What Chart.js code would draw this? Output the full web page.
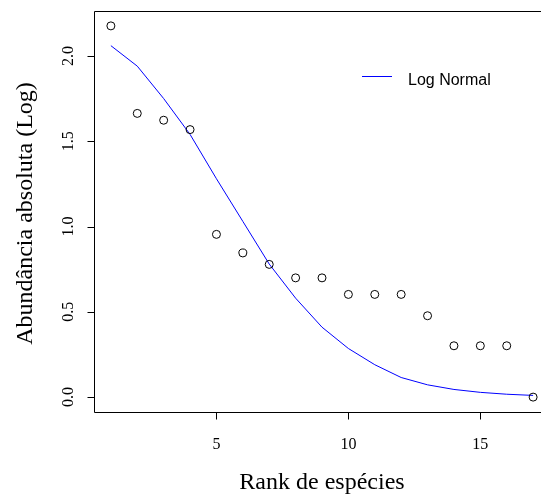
<!DOCTYPE html>
<html>
<head>
<meta charset="utf-8">
<script src="https://cdn.jsdelivr.net/npm/chart.js@4"></script>
<style>
  html, body { margin: 0; padding: 0; background: #fff; overflow: hidden; }
  #wrap { width: 560px; height: 498px; }
</style>
</head>
<body>
<div id="wrap"><canvas id="chart" width="560" height="498"></canvas></div>
<script>
// species rank (x) and log10 abundance
const ranks = [1, 2, 3, 4, 5, 6, 7, 8, 9, 10, 11, 12, 13, 14, 15, 16, 17];
const observed = [2.176, 1.663, 1.623, 1.568, 0.954, 0.845, 0.778, 0.699, 0.699,
  0.602, 0.602, 0.602, 0.477, 0.301, 0.301, 0.301, 0.0];
const logNormal = [2.06, 1.94, 1.75, 1.54, 1.28, 1.03, 0.78, 0.58, 0.41,
  0.285, 0.19, 0.115, 0.072, 0.045, 0.028, 0.017, 0.01];
const xTicks = [5, 10, 15];
const yTicks = [0, 0.5, 1, 1.5, 2];
const yTickLabels = ["0.0", "0.5", "1.0", "1.5", "2.0"];

const SERIF = "'Liberation Serif', 'Times New Roman', serif";
const SANS = "'Liberation Sans', Arial, sans-serif";

// R-style axes, box, labels and legend
const rAxes = {
  id: "rAxes",
  afterDraw(chart) {
    const ctx = chart.ctx;
    const { left, right, top, bottom } = chart.chartArea;
    const xs = chart.scales.x, ys = chart.scales.y;
    ctx.save();
    ctx.strokeStyle = "#000";
    ctx.lineWidth = 1;

    // box (right side falls outside the picture)
    const bx = Math.round(left) + 0.5;
    const by = Math.round(bottom) + 0.5;
    const ty = Math.round(top) + 0.5;
    ctx.beginPath();
    ctx.moveTo(right + 20, ty);
    ctx.lineTo(bx, ty);
    ctx.lineTo(bx, by);
    ctx.lineTo(right + 20, by);
    ctx.stroke();

    // x axis ticks
    ctx.fillStyle = "#000";
    ctx.font = "16px " + SERIF;
    ctx.textAlign = "center";
    ctx.textBaseline = "alphabetic";
    ctx.beginPath();
    xTicks.forEach(v => {
      const px = Math.round(xs.getPixelForValue(v)) + 0.5;
      ctx.moveTo(px, by);
      ctx.lineTo(px, by + 7);
    });
    ctx.stroke();
    xTicks.forEach(v => {
      ctx.fillText(String(v), xs.getPixelForValue(v), by + 36);
    });

    // y axis ticks
    ctx.beginPath();
    yTicks.forEach(v => {
      const py = Math.round(ys.getPixelForValue(v)) + 0.5;
      ctx.moveTo(bx, py);
      ctx.lineTo(bx - 7, py);
    });
    ctx.stroke();
    yTicks.forEach((v, i) => {
      ctx.save();
      ctx.translate(bx - 22, ys.getPixelForValue(v));
      ctx.rotate(-Math.PI / 2);
      ctx.fillText(yTickLabels[i], 0, 0);
      ctx.restore();
    });

    // axis titles
    ctx.font = "24px " + SERIF;
    ctx.fillText("Rank de espécies", (left + right) / 2, 489);
    ctx.save();
    ctx.translate(32, (top + bottom) / 2 + 2);
    ctx.rotate(-Math.PI / 2);
    ctx.fillText("Abundância absoluta (Log)", 0, 0);
    ctx.restore();

    // legend
    ctx.strokeStyle = "#0000ff";
    ctx.beginPath();
    ctx.moveTo(362, 76.5);
    ctx.lineTo(392, 76.5);
    ctx.stroke();
    ctx.font = "16px " + SANS;
    ctx.textAlign = "left";
    ctx.fillText("Log Normal", 408, 84.5);
    ctx.restore();
  }
};

new Chart(document.getElementById("chart"), {
  type: "scatter",
  data: {
    datasets: [
      {
        label: "Observado",
        data: ranks.map((r, i) => ({ x: r, y: observed[i] })),
        pointStyle: "circle",
        pointRadius: 4,
        borderColor: "#000",
        backgroundColor: "rgba(0,0,0,0)",
        borderWidth: 1,
      },
      {
        label: "Log Normal",
        data: ranks.map((r, i) => ({ x: r, y: logNormal[i] })),
        showLine: true,
        borderColor: "#0000ff",
        borderWidth: 1,
        pointRadius: 0,
        tension: 0,
      },
    ],
  },
  options: {
    responsive: false,
    animation: false,
    layout: { padding: { left: 94, top: 11, right: 10, bottom: 86 } },
    scales: {
      x: { type: "linear", display: false, min: 0.36, max: 17.64 },
      y: { type: "linear", display: false, min: -0.0872, max: 2.2632 },
    },
    plugins: {
      legend: { display: false },
      tooltip: { enabled: false },
    },
  },
  plugins: [rAxes],
});
</script>
</body>
</html>
